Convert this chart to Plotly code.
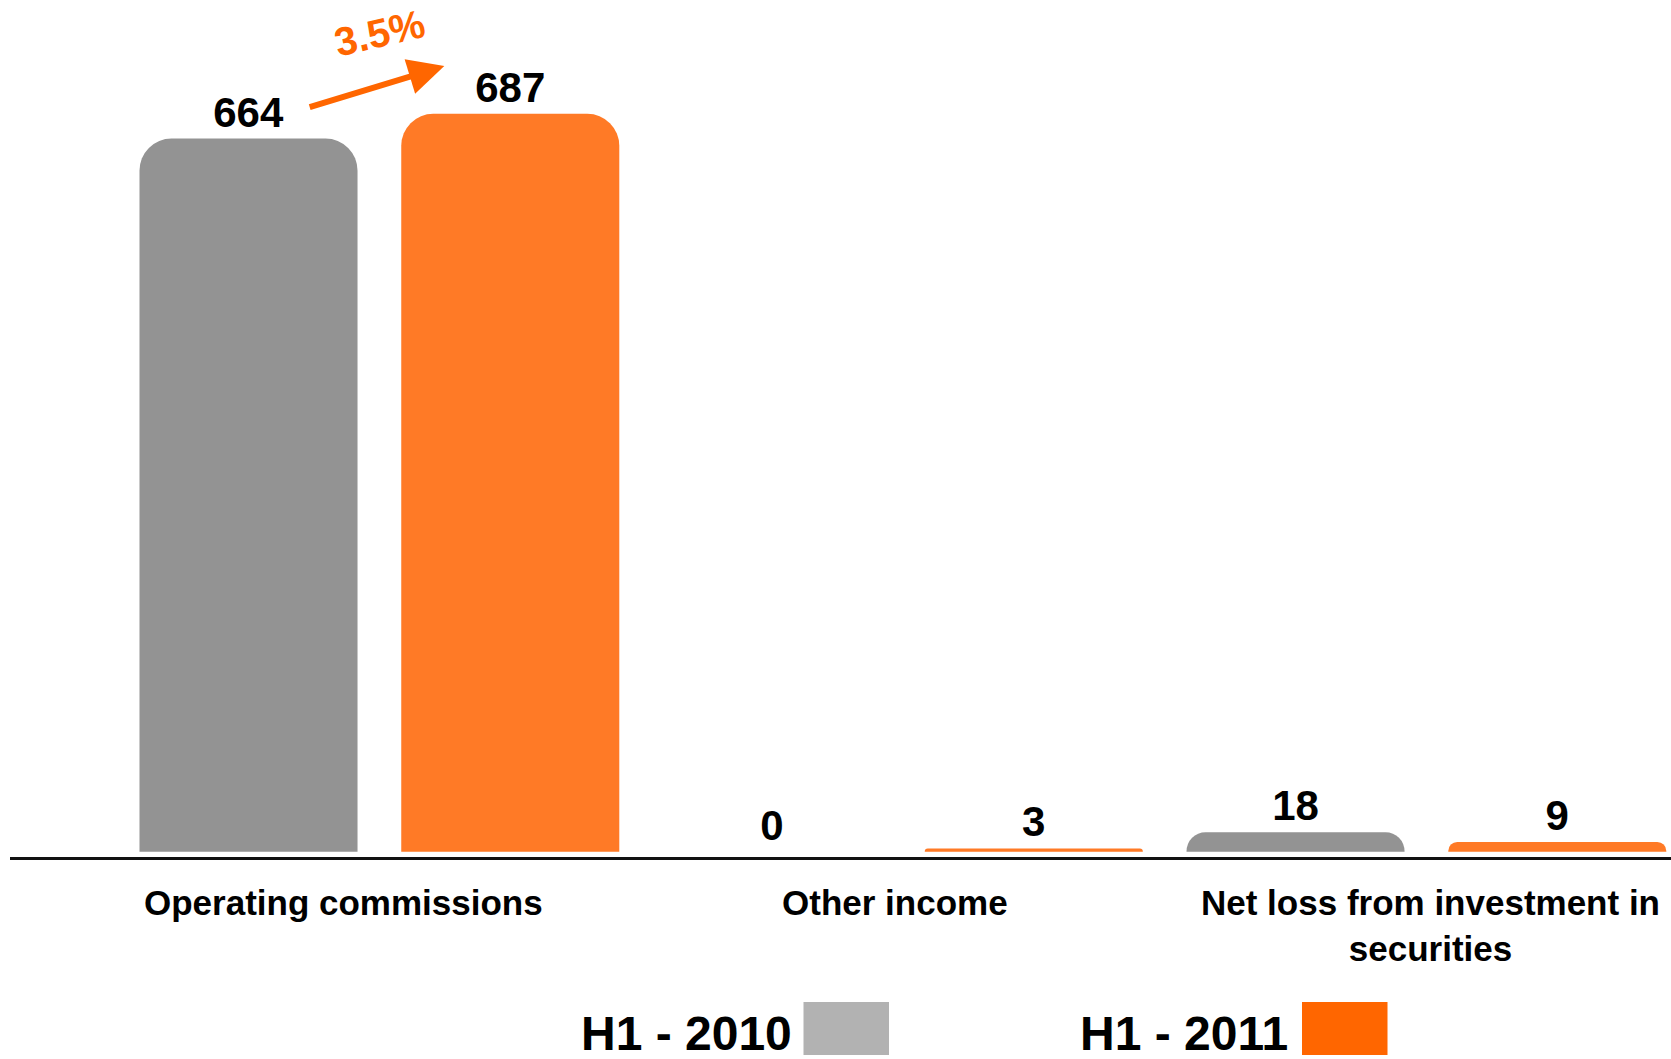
import plotly.graph_objects as go

# Data
categories = ["Operating commissions", "Other income", "Net loss from investment in<br>securities"]
h1_2010 = [664, 0, 18]
h1_2011 = [687, 3, 9]
series_names = ["H1 - 2010", "H1 - 2011"]
growth_label = "3.5%"

W, H = 1671, 1059
M_L, M_R, M_T, M_B = 10, 0, 0, 202
PLOT_W = W - M_L - M_R
PLOT_H = H - M_T - M_B

GRAY = "#939393"
ORANGE = "#ff7a26"
LEGEND_GRAY = "#b2b2b2"
LEGEND_ORANGE = "#ff6600"
FONT = "Liberation Sans, Arial, sans-serif"

# horizontal nudge (px) of the category captions, as in the original slide
label_shift = [-36, -8, 4]


def px_x(px):
    return (px - M_L) / PLOT_W


def px_y(py):
    return (H - M_B - py) / PLOT_H


fig = go.Figure()
for name, vals, color in [(series_names[0], h1_2010, GRAY), (series_names[1], h1_2011, ORANGE)]:
    fig.add_trace(go.Bar(
        x=categories,
        y=vals,
        name=name,
        marker=dict(color=color, cornerradius=32, line=dict(width=0)),
        text=[str(v) for v in vals],
        textposition="outside",
        textfont=dict(family=FONT, size=42, color="#000000", weight="bold"),
        cliponaxis=False,
        showlegend=False,
    ))

# category captions
for i, cat in enumerate(categories):
    fig.add_annotation(
        x=i, y=px_y(881), xref="x", yref="paper", xshift=label_shift[i],
        xanchor="center", yanchor="top", text=cat, showarrow=False,
        font=dict(family=FONT, size=35, color="#000000", weight="bold"),
    )

# growth arrow between the first pair of bars
fig.add_annotation(
    x=0.124, y=731.5, ax=-0.136, ay=692.8,
    xref="x", yref="y", axref="x", ayref="y",
    text="", showarrow=True, arrowhead=2, arrowsize=1.2,
    arrowwidth=6, arrowcolor=LEGEND_ORANGE, standoff=0,
)
fig.add_annotation(
    x=0.0, y=762, xref="x", yref="y", text=growth_label, showarrow=False,
    textangle=-13, font=dict(family=FONT, size=40, color=LEGEND_ORANGE, weight="bold"),
)

# custom legend: text followed by swatch
legend_items = [
    (series_names[0], LEGEND_GRAY, 794, 803.5, 889),
    (series_names[1], LEGEND_ORANGE, 1289.5, 1302, 1387.5),
]
for label, color, text_right, box_l, box_r in legend_items:
    fig.add_annotation(
        x=px_x(text_right), y=px_y(1033), xref="paper", yref="paper",
        xanchor="right", yanchor="middle", text=label, showarrow=False,
        font=dict(family=FONT, size=48, color="#000000", weight="bold"),
    )
    fig.add_shape(
        type="rect", xref="paper", yref="paper",
        x0=px_x(box_l), x1=px_x(box_r), y0=px_y(1055), y1=px_y(1002),
        fillcolor=color, line=dict(width=0),
    )

fig.update_layout(
    width=W, height=H,
    barmode="group", bargap=0.0, bargroupgap=0.167,
    margin=dict(l=M_L, r=M_R, t=M_T, b=M_B),
    paper_bgcolor="#ffffff", plot_bgcolor="#ffffff",
    font=dict(family=FONT, color="#000000"),
    xaxis=dict(
        range=[-0.7056, 2.4672], showline=True, linecolor="#111111", linewidth=3,
        showgrid=False, zeroline=False, ticks="", showticklabels=False,
    ),
    yaxis=dict(range=[-5, 793], visible=False, showgrid=False, zeroline=False),
)

fig.write_html(
    "out.html",
    config={"displayModeBar": False},
    post_script="document.body.style.margin='0';document.body.style.overflow='hidden';",
)
